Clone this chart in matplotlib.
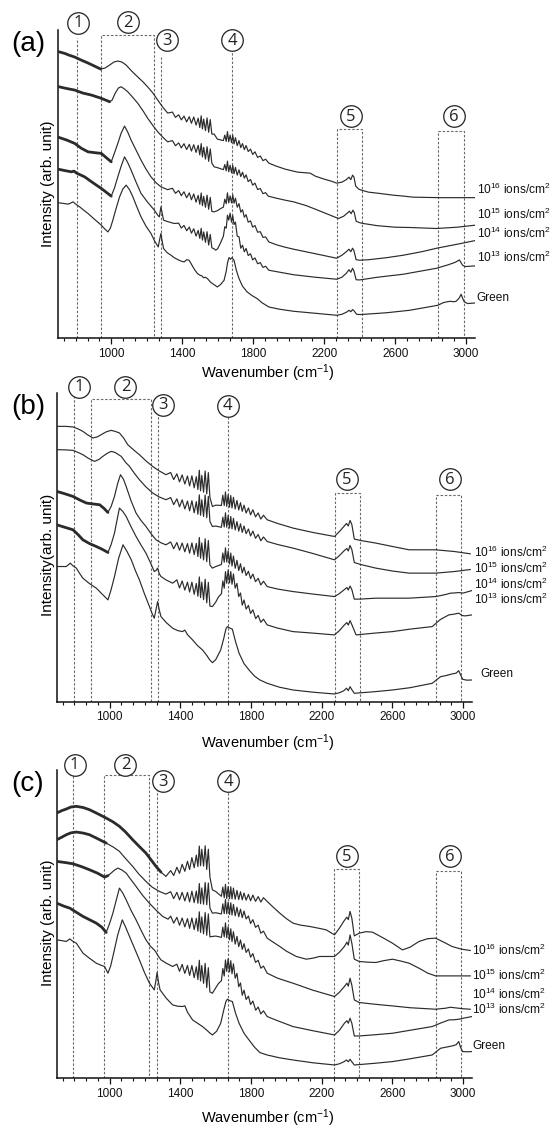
import matplotlib
matplotlib.use('Agg')
import matplotlib.pyplot as plt
from matplotlib.ticker import AutoMinorLocator

plt.rcParams['font.family'] = ['Liberation Sans', 'DejaVu Sans']
plt.rcParams['mathtext.default'] = 'regular'

# ---------------- data: (wavenumber cm^-1, intensity arb. unit) ----------------
SERIES_LABELS = ['10$^{16}$ ions/cm$^{2}$', '10$^{15}$ ions/cm$^{2}$',
                 '10$^{14}$ ions/cm$^{2}$', '10$^{13}$ ions/cm$^{2}$', 'Green']
X_TICKS = [1000, 1400, 1800, 2200, 2600, 3000]

A16 = [(700,286.5),(740,284.5),(760,283),(794,281),(830,278),(869,275),(905,272),(940,269),(965,270),(991,273),(1015,276),(1037,277),(1060,276),(1084,273),(1115,267),(1150,261),(1180,256),(1206,251),(1235,245),(1262,238),(1290,231),(1318,225),(1345,226),(1362,220.7),(1380,223.3),(1395,218.2),(1410,222),(1425,216.2),(1440,221.4),(1452,214.8),(1465,221.1),(1478,213),(1490,219.9),(1499,210.5),(1507,222.3),(1514,209.1),(1521,219),(1531,207.5),(1540,220.2),(1549,205.8),(1558,218.5),(1567,204),(1580,204),(1598,199),(1632,197.5),(1640,203),(1648,196.7),(1655,206.5),(1662,196.3),(1670,203),(1678,195.5),(1685,202.8),(1692,194.2),(1700,200.4),(1710,192.4),(1720,197.5),(1730,190.5),(1740,194.5),(1750,188.5),(1760,192.6),(1772,186.6),(1785,189),(1797,183.7),(1810,186.3),(1825,180.7),(1840,182.1),(1855,177.5),(1870,178.9),(1888,175),(1930,172),(1980,169),(2050,166),(2121,165),(2150,162),(2200,159),(2240,157),(2271,155),(2300,156),(2325,158.5),(2340,161),(2350,158.5),(2360,163),(2368,161),(2378,152),(2395,149),(2410,148),(2450,146),(2500,145),(2589,143),(2650,142),(2701,141),(2850,140.5),(3050,140.5)]
A15 = [(700,251.5),(750,249.5),(794,248),(840,245),(888,243),(940,240),(975,237.5),(991,236.3),(1005,238),(1022,244.7),(1040,250),(1056,251.3),(1075,249),(1093,246.3),(1120,241),(1150,234.7),(1180,227),(1206,219.7),(1235,212.5),(1262,206.3),(1290,201),(1318,196.3),(1345,197.5),(1362,192.4),(1380,195.2),(1395,190.2),(1410,194.4),(1425,188.6),(1440,193.8),(1452,187.1),(1465,193.4),(1478,185.7),(1490,192.8),(1499,183.2),(1507,194.5),(1514,181.2),(1521,190.8),(1531,179),(1540,191.4),(1549,176.8),(1558,189.2),(1567,175),(1580,171.3),(1598,170.5),(1632,168.5),(1640,173.6),(1648,167.3),(1655,177),(1662,166.4),(1670,172.9),(1678,165.3),(1685,172.8),(1692,164.3),(1700,170.7),(1710,163),(1720,168.3),(1730,161.6),(1740,165.9),(1750,160),(1760,163.3),(1772,156.5),(1785,158.7),(1797,153),(1810,155),(1825,148.6),(1840,149.6),(1855,144.5),(1870,145.5),(1885,142),(1930,140),(1980,138),(2028,136.3),(2100,132.5),(2150,129),(2220,124),(2280,119.7),(2310,122),(2330,125),(2342,127),(2352,124.5),(2362,128),(2370,125.5),(2380,117),(2400,115.5),(2420,114.7),(2500,112.5),(2600,111),(2682,110.7),(2832,109.7),(2950,111),(3050,113)]
A14 = [(700,201),(750,198),(794,194.7),(830,190),(869,186.3),(905,185.5),(944,184.7),(975,180),(1000,176.3),(1018,185),(1037,194.7),(1056,205),(1075,212),(1093,206),(1112,198),(1140,188),(1168,178),(1196,169),(1224,161.3),(1252,155.5),(1280,151.3),(1318,148.5),(1345,149.9),(1362,144.8),(1380,147.6),(1395,142.5),(1410,146.4),(1425,140.4),(1440,145.3),(1452,138.4),(1465,144.2),(1478,136),(1490,142.8),(1499,133.9),(1507,145.2),(1514,132.5),(1521,141.8),(1531,130.9),(1540,143),(1549,128.9),(1558,140.8),(1567,126.8),(1580,126.3),(1598,127.5),(1620,130),(1632,131),(1640,139),(1648,134.5),(1655,145.3),(1662,135.3),(1670,142.3),(1678,135.3),(1685,143.3),(1692,135),(1700,140),(1710,131),(1720,134.5),(1730,126),(1740,128.5),(1750,121),(1760,123.5),(1772,116),(1785,117.3),(1797,111),(1810,112.7),(1825,106),(1840,106.5),(1855,100.8),(1870,101.3),(1888,96.3),(1930,93.5),(1980,91),(2028,89),(2150,84.5),(2270,80),(2300,83),(2325,86.5),(2340,89),(2350,86.5),(2360,90),(2368,87.5),(2380,78.5),(2400,78),(2450,78.5),(2550,80.5),(2646,83),(2750,86.5),(2834,90),(2950,94),(3050,97.6)]
A13 = [(700,169),(740,167.5),(776,166.3),(790,167),(805,165),(850,161.3),(900,155),(944,149.7),(975,145.5),(1000,142),(1018,150),(1037,161.3),(1056,172),(1075,181.3),(1093,175.5),(1112,168),(1140,156),(1168,144.7),(1205,136),(1243,128),(1262,123),(1271,121.3),(1280,131.3),(1288,124),(1295,118),(1320,116.5),(1355,114.7),(1380,115),(1395,110.1),(1410,112.8),(1425,107.5),(1440,111.1),(1452,105),(1465,109.5),(1478,102.1),(1490,107.8),(1499,99.8),(1507,109.9),(1514,98.1),(1521,106.3),(1531,95.9),(1540,106.5),(1549,93.2),(1558,103.8),(1567,90.4),(1580,89.4),(1589,88),(1600,89.5),(1615,95),(1632,102),(1640,111.5),(1648,110),(1655,123),(1662,118),(1670,125),(1678,116),(1685,122.5),(1692,113.7),(1700,116),(1710,102),(1720,101.5),(1730,90),(1740,93),(1750,86.5),(1760,89.8),(1772,82.7),(1785,84.4),(1797,78.3),(1810,80.3),(1825,74.5),(1840,75.6),(1855,70.8),(1870,72),(1888,68),(1950,66),(2028,63.5),(2150,61),(2271,59),(2300,61),(2325,65),(2340,68.5),(2350,66),(2360,70),(2368,67),(2380,58.5),(2400,58.3),(2500,61),(2646,64),(2834,70),(2900,73.5),(2940,76),(2962,78.3),(2980,73),(2995,71.7),(3050,72.3)]
AG = [(700,135.5),(740,134.5),(757,134),(770,135),(785,136.3),(800,134),(822,131.3),(845,128),(869,124.7),(905,119),(944,113),(965,109),(981,106.3),(995,110),(1009,118),(1028,130),(1047,141.3),(1065,149),(1084,153),(1103,148.5),(1122,141.3),(1145,131),(1168,121.3),(1196,112),(1224,104.7),(1245,97),(1265,91.3),(1272,98),(1280,104.7),(1287,97),(1295,89.7),(1315,85.5),(1337,83),(1355,80.5),(1374,78.7),(1395,77),(1411,76.3),(1425,78.5),(1439,78),(1455,73),(1470,68.5),(1486,64.7),(1500,63),(1510,62.5),(1520,60.5),(1530,61),(1542,59.7),(1560,56),(1580,53.5),(1598,51.3),(1615,53.5),(1636,58),(1648,67),(1656,76),(1664,80.7),(1672,79),(1680,80.5),(1692,78),(1705,68),(1720,59.7),(1740,52),(1766,46.3),(1795,42.5),(1822,39.7),(1850,35.5),(1888,31.3),(1950,29),(2028,27),(2150,25),(2271,23),(2300,24),(2325,26),(2340,28),(2350,26.5),(2360,28.7),(2368,27.5),(2383,24),(2402,23.7),(2550,25.5),(2682,28),(2841,33),(2870,35.5),(2888,36.3),(2910,37),(2930,36.5),(2944,37),(2960,40),(2972,44),(2980,40),(2990,36.3),(3009,34.7),(3050,35.3)]

B16 = [(700,275),(750,275),(792,274.4),(820,272.5),(848,270),(875,266.5),(905,263.4),(930,264.5),(952,266.7),(980,269.5),(1008,271),(1030,270),(1055,268.4),(1080,263),(1102,256.7),(1135,251.5),(1168,246.7),(1205,240.5),(1243,235),(1280,230.5),(1318,226.7),(1345,228.9),(1362,221.8),(1380,227.6),(1395,219.6),(1410,226.5),(1425,217.4),(1440,225.4),(1452,215.5),(1465,225.6),(1478,213.6),(1490,224.7),(1499,211.9),(1507,231.2),(1514,210.6),(1521,226),(1531,209.2),(1540,230.4),(1549,207.6),(1558,228.8),(1567,204),(1581,195),(1600,196.3),(1632,196),(1640,206.3),(1648,195.9),(1655,209.5),(1662,195.1),(1670,206.7),(1678,194.3),(1685,205.9),(1692,193.5),(1700,204.1),(1710,192.5),(1720,201),(1730,191.5),(1740,198.8),(1750,190.1),(1760,196.3),(1772,188.4),(1785,193.5),(1797,186.6),(1810,191.7),(1825,184.6),(1840,188.5),(1855,182.4),(1870,186.2),(1891,181.7),(1950,178),(2037,173.4),(2150,169),(2272,165),(2300,170),(2325,175),(2340,178),(2350,175.5),(2360,181),(2370,177),(2384,162.4),(2420,161),(2506,158.4),(2600,155),(2694,151.7),(2844,151.7),(2950,150),(3040,147.7)]
B15 = [(700,251.7),(750,251.5),(792,251),(820,249),(848,246.7),(880,243),(914,240),(940,242),(961,245),(985,248),(1008,250),(1030,249),(1065,245),(1090,239),(1112,235),(1140,228),(1168,221.7),(1205,214.5),(1243,208.4),(1280,204.5),(1318,201.7),(1345,203.9),(1362,196.8),(1380,202.6),(1395,194.6),(1410,201.6),(1425,192.5),(1440,200.4),(1452,190.6),(1465,200.7),(1478,188.7),(1490,199.8),(1499,187.2),(1507,206.6),(1514,186.2),(1521,201.7),(1531,185),(1540,206.4),(1549,183.8),(1558,205.1),(1567,180),(1581,175),(1600,175.4),(1632,174.2),(1640,184.3),(1648,174.5),(1655,188.7),(1662,174.3),(1670,185.9),(1678,173.4),(1685,185),(1692,172.6),(1700,183.1),(1710,171.5),(1720,179.9),(1730,170.3),(1740,177.7),(1750,169.1),(1760,175.5),(1772,167.8),(1785,172.5),(1797,165.5),(1810,170.4),(1825,163.2),(1840,167),(1855,160.7),(1870,164.5),(1891,160),(1950,157),(2037,153.4),(2150,148),(2272,141.7),(2300,146),(2328,151),(2342,153),(2350,150.5),(2360,156),(2370,152),(2384,139),(2420,137),(2506,133.4),(2600,130.5),(2694,128.4),(2844,128.4),(2950,130),(3040,132)]
B14 = [(700,210),(740,208),(792,205),(830,201.5),(868,198.4),(905,197.5),(943,196.7),(968,193),(990,189),(1008,195),(1027,205),(1045,218),(1061,226.7),(1078,222),(1093,215),(1120,201),(1149,188.4),(1177,181),(1205,175),(1235,167.5),(1262,161.7),(1290,158.7),(1318,156.7),(1345,159.5),(1362,152.8),(1380,159),(1395,151.3),(1410,158.5),(1425,149.7),(1440,157.9),(1452,148.3),(1465,158.6),(1478,146.9),(1490,158.1),(1499,145),(1507,164),(1514,143.3),(1521,158.6),(1531,141.6),(1540,162.7),(1549,139.8),(1558,161),(1567,136.5),(1581,133.4),(1600,135),(1632,137),(1640,148.5),(1648,139.3),(1655,153.7),(1662,139.5),(1670,150.5),(1678,137.5),(1685,148.5),(1692,135.5),(1700,145.5),(1710,133.3),(1720,141.2),(1730,131),(1740,137.8),(1750,128.6),(1760,134.4),(1772,126),(1785,130.3),(1797,122.9),(1810,127.5),(1825,119.9),(1840,123.2),(1855,116.6),(1870,120.3),(1891,115),(1950,112.5),(2037,110),(2150,107.5),(2272,105),(2300,108),(2328,112),(2342,114),(2350,111.5),(2360,115.5),(2370,112),(2384,102.4),(2420,102.5),(2506,103.4),(2694,103.4),(2844,105),(2900,107),(2928,108.4),(2950,108.6),(2975,109),(3000,108.5),(3050,111)]
B13 = [(700,176.7),(740,174.5),(792,171.7),(820,167),(848,161.7),(885,158),(924,155),(960,152),(990,149),(1008,157),(1027,168.4),(1041,181),(1055,193.4),(1074,190),(1093,185),(1120,175),(1149,165),(1177,156.5),(1205,148.4),(1230,139),(1252,130),(1262,131),(1271,133.4),(1280,128),(1290,125),(1320,121.5),(1356,118.4),(1380,121.7),(1395,113.6),(1410,120.6),(1425,111.5),(1440,119.4),(1452,109.5),(1465,119.4),(1478,107.2),(1490,118.1),(1499,105.3),(1507,124.6),(1514,104),(1521,119.4),(1531,101.9),(1540,122.3),(1549,98.7),(1558,119.1),(1567,95.5),(1581,95),(1600,99.5),(1615,104.5),(1632,107.8),(1640,120.6),(1648,113.4),(1655,129.9),(1662,118.3),(1670,131.5),(1678,118.6),(1685,130),(1692,117.3),(1700,127.6),(1710,113.4),(1720,118.2),(1730,105),(1740,108.6),(1750,96.4),(1760,101.6),(1772,92.5),(1785,96.2),(1797,88.1),(1810,91.8),(1826,83),(1840,86.2),(1855,79.3),(1870,82.4),(1891,76.7),(1950,73.5),(2037,70),(2150,68.5),(2272,66.7),(2300,71),(2328,76.7),(2342,79),(2350,76.5),(2360,81),(2370,77),(2394,66.7),(2500,68.5),(2600,70),(2700,72.5),(2825,75),(2870,82),(2919,86.7),(2950,87.5),(2975,88.4),(2995,86),(3012,85.7),(3050,86.7)]
BG = [(700,135),(730,135),(754,135),(768,137),(777,138.4),(790,136),(811,133.4),(830,128),(848,123.4),(885,118),(924,113.4),(960,107),(990,101.7),(1008,112),(1027,125),(1050,143),(1075,156.7),(1098,150),(1122,141.7),(1145,131),(1168,121.7),(1196,108),(1225,95),(1240,88),(1252,83.4),(1262,92),(1271,100),(1280,92),(1290,85),(1320,79),(1356,73.4),(1385,71),(1412,70),(1425,71.5),(1440,67),(1469,61.7),(1497,56),(1525,51.7),(1550,46),(1565,42),(1581,39),(1600,42),(1628,51.7),(1645,63),(1658,73),(1666,75),(1680,73.5),(1694,72.4),(1712,60),(1732,48.4),(1760,38),(1788,31.7),(1820,25.5),(1850,21.7),(1891,18.4),(1960,14.5),(2037,11.7),(2150,9.5),(2272,7.7),(2300,9),(2325,11),(2340,13.5),(2350,11),(2360,15),(2370,12),(2384,8.4),(2500,10),(2600,11.7),(2700,14),(2825,18.4),(2872,25),(2900,26),(2937,27.7),(2960,28.5),(2975,31),(2985,27),(2997,22.4),(3020,21.5),(3050,21.7)]

C16 = [(700,265),(730,267.5),(754,269),(780,271),(811,271.7),(850,270.5),(886,268.3),(930,264.5),(980,260),(1020,256),(1055,251.7),(1090,246),(1130,238.3),(1165,232),(1205,225),(1235,218),(1262,211.7),(1290,206),(1318,201.7),(1345,207.5),(1362,202.6),(1380,210.8),(1395,204.8),(1410,213.8),(1425,206.8),(1440,216.8),(1452,208.6),(1465,220.5),(1478,210.3),(1490,223),(1499,211.5),(1507,232),(1514,212.4),(1521,228.8),(1531,212),(1540,232.3),(1549,208.6),(1558,228.9),(1567,201),(1581,188.3),(1600,186.6),(1632,181.8),(1640,191.1),(1648,180.4),(1655,193.8),(1662,179.6),(1670,191.5),(1678,179.4),(1685,191.3),(1692,179.2),(1700,190),(1710,178.9),(1720,187.7),(1730,178.6),(1740,186.4),(1750,178.3),(1760,185.1),(1772,178),(1785,183.7),(1797,177.4),(1810,183.1),(1825,176.8),(1840,181.5),(1855,176.1),(1870,180.4),(1891,176.7),(1925,171),(1962,165),(2000,159.5),(2037,155),(2080,153),(2131,151.7),(2180,150),(2225,148.3),(2272,143.3),(2300,150),(2325,157),(2342,161),(2350,158.5),(2360,166.7),(2370,160),(2384,142.3),(2412,145),(2450,146.5),(2487,146),(2550,140),(2600,135),(2656,128.3),(2700,131),(2750,136.7),(2800,139.5),(2844,140),(2890,136),(2937,131.7),(2990,129),(3040,127.7)]
C15 = [(700,238.3),(730,241),(754,243.3),(780,245.2),(811,246),(850,245),(886,243.3),(930,239.5),(980,235),(1020,231),(1055,226.7),(1090,219.5),(1130,211.7),(1165,204),(1205,196.7),(1240,191),(1281,186.7),(1318,184),(1345,186.4),(1362,179.5),(1380,185.8),(1395,178.3),(1410,185.8),(1425,177.2),(1440,185.7),(1452,176.2),(1465,186.9),(1478,175.5),(1490,187.1),(1499,174.9),(1507,194.6),(1514,174.4),(1521,190.2),(1531,173.9),(1540,195.6),(1549,173.4),(1558,195.1),(1567,170),(1581,165),(1600,165.4),(1632,164.2),(1640,174.3),(1648,164.5),(1655,178.7),(1662,164.4),(1670,176.1),(1678,163.7),(1685,175.4),(1692,163.1),(1700,173.7),(1710,162.3),(1720,170.9),(1730,161.4),(1740,169),(1750,160.5),(1760,167.1),(1772,159.2),(1785,162.2),(1797,154.6),(1810,158.5),(1825,150.8),(1840,153),(1855,145),(1870,147),(1891,140),(1925,136),(1962,131.7),(2000,127),(2056,121.7),(2112,119),(2150,120),(2187,121.7),(2230,121.7),(2272,121.7),(2300,126),(2328,131.7),(2342,136),(2350,133),(2360,143.3),(2370,135),(2384,119),(2412,116.7),(2460,116),(2506,115.7),(2550,117.5),(2600,119),(2650,117),(2694,115),(2750,110),(2800,105),(2844,102.3),(2950,102.3),(3040,102.3)]
C14 = [(700,216.7),(750,215.5),(792,214.3),(840,211.5),(886,208.3),(930,205),(971,201),(990,202.5),(1008,205),(1027,208),(1046,210),(1070,208),(1093,205),(1120,198.5),(1149,191.7),(1185,183),(1224,175),(1262,168),(1300,161.7),(1330,159),(1345,162),(1362,155),(1380,160.8),(1395,152.9),(1410,160.1),(1425,151.3),(1440,159.5),(1452,149.8),(1465,160.2),(1478,148.5),(1490,159.8),(1499,147),(1507,166.3),(1514,145.7),(1521,161.2),(1531,144.4),(1540,165.6),(1549,142.9),(1558,164.2),(1567,141.3),(1581,141.7),(1600,142.1),(1632,140.8),(1640,151),(1648,141.2),(1655,155.3),(1662,140.5),(1670,151.4),(1678,138.4),(1685,149.4),(1692,136.5),(1700,146.5),(1710,134.1),(1720,141.8),(1730,131.5),(1740,138.2),(1750,128.8),(1760,134.5),(1772,125.7),(1785,129.3),(1797,121),(1810,124.6),(1825,115.8),(1840,117.9),(1855,110),(1870,112.1),(1891,105),(1950,100),(2037,95),(2150,88),(2272,81.7),(2300,86),(2328,91.7),(2342,95),(2350,92),(2360,100),(2370,93),(2384,78.3),(2412,75.7),(2500,74),(2600,72.3),(2700,70.5),(2844,69),(2900,70),(2928,71),(2950,70.5),(2975,70),(3000,69.5),(3040,69)]
C13 = [(700,175),(740,172),(774,170),(810,166),(849,161.7),(885,158.5),(924,155),(955,151),(980,145.7),(1000,155),(1018,165),(1037,178),(1055,190),(1074,185),(1093,178.3),(1120,168),(1149,158.3),(1177,148),(1205,138.3),(1230,132),(1252,128.3),(1262,126),(1275,122),(1290,118.3),(1320,115),(1356,111.7),(1380,114),(1395,106.9),(1410,113.8),(1425,104.8),(1440,112.7),(1452,102.8),(1465,112.7),(1478,100.5),(1490,111.4),(1499,98.6),(1507,117.9),(1514,97.3),(1521,112.7),(1531,94.9),(1540,114.8),(1549,90.6),(1558,110.5),(1567,86.3),(1581,85),(1600,90.4),(1615,94.6),(1632,97.5),(1640,109.7),(1648,102.2),(1655,118.3),(1662,106.8),(1670,119.5),(1678,106.4),(1685,117.5),(1692,104.4),(1700,114.4),(1710,100),(1720,104.8),(1730,91.5),(1740,95.3),(1750,83),(1760,88),(1772,78.7),(1785,82.1),(1797,73.7),(1810,77.2),(1826,68),(1840,71.2),(1855,64.3),(1870,67.4),(1891,61.7),(1950,57.5),(2037,51.7),(2150,47.5),(2272,43.3),(2300,48),(2328,55),(2342,57.5),(2350,55),(2360,60),(2370,55),(2384,42.3),(2412,42.3),(2500,43.5),(2600,45),(2700,48),(2825,51.7),(2870,55),(2919,58.3),(2950,58.5),(2975,59),(3000,60),(3050,61.7)]
CG = [(700,138.3),(730,137.5),(754,136.7),(765,138),(774,139.3),(790,137),(811,135),(830,130),(849,125),(885,120),(924,115),(950,113),(971,111.7),(990,105),(1005,112),(1018,121.7),(1045,143),(1071,158.3),(1090,151),(1112,141.7),(1140,130),(1168,118.3),(1196,106),(1225,95),(1252,88.3),(1260,96),(1268,105.7),(1276,96),(1285,88.3),(1320,80),(1356,73.3),(1385,72),(1412,71.7),(1425,72.5),(1440,66),(1469,58.3),(1497,55),(1525,51.7),(1550,48),(1565,45.5),(1581,43.3),(1605,47),(1628,55),(1645,68),(1658,77),(1666,79),(1680,77.5),(1694,76.7),(1712,65),(1732,55),(1760,45),(1788,38.3),(1820,31),(1850,25.7),(1891,23.3),(1960,20.5),(2037,18.3),(2150,15.5),(2272,13.3),(2300,14.5),(2325,16.5),(2340,18.3),(2350,16.5),(2360,19),(2370,16.5),(2384,13.3),(2500,15),(2600,16.7),(2700,19.5),(2825,23.3),(2872,30),(2900,31),(2937,32.3),(2960,33.5),(2975,36.7),(2985,31),(2997,26.7),(3020,26.5),(3050,26.7)]

# band markers (wavenumber positions of the numbered regions)
A_LINES = [808, 1280, 1679]
A_BOXES = [(940, 1243), (2271, 2415), (2841, 2987)]
B_LINES = [798, 1271, 1670]
B_BOXES = [(895, 1234), (2272, 2416), (2844, 2988)]
C_LINES = [792, 1267, 1670]
C_BOXES = [(967, 1224), (2268, 2412), (2844, 2988)]

# ---------------- layout / style ----------------
W, H = 556, 1128
LINE_COLOR = '#2b2b2b'
DASH_COLOR = '#6a6a6a'

PANELS = [
    dict(tag='(a)', curves=[A16, A15, A14, A13, AG], thick=[945, 995, 1000, 1000, None],
         label_y=[149, 123.3, 105, 81, 40], label_x=[3060]*5,
         lines=A_LINES, line_tops=[300, 283, 288], boxes=A_BOXES, box_tops=[303, 208.7, 207.3],
         circles=[(812, 315), (1096, 315.5), (1315, 298), (1681, 298), (2349, 222), (2930, 222)],
         ax_px=(58, 30, 475, 338.3), ylab='Intensity (arb. unit)', ylab_y=184, xlab_y=373),
    dict(tag='(b)', curves=[B16, B15, B14, B13, BG], thick=[None, None, 990, 995, None],
         label_y=[149.5, 133.5, 117.5, 102.5, 28], label_x=[3063]*4 + [3095],
         lines=B_LINES, line_tops=[306, 291.7, 285], boxes=B_BOXES, box_tops=[302, 208.4, 206.7],
         circles=[(826, 314.4), (1089, 314.4), (1303, 296.7), (1668, 295.7), (2341, 222.4), (2924, 222.4)],
         ax_px=(56.7, 393.3, 472, 701.7), ylab='Intensity(arb. unit)', ylab_y=555, xlab_y=743),
    dict(tag='(c)', curves=[C16, C15, C14, C13, CG], thick=[1300, 1000, 990, 980, None],
         label_y=[128, 103, 84, 69, 32.5], label_x=[3052]*5,
         lines=C_LINES, line_tops=[306, 293.3, 288.3], boxes=C_BOXES, box_tops=[303.3, 209, 207.3],
         circles=[(801, 313.3), (1089, 313.3), (1303, 296.7), (1670, 296.7), (2341, 221.6), (2924, 221.6)],
         ax_px=(56.7, 770, 472, 1078.3), ylab='Intensity (arb. unit)', ylab_y=923, xlab_y=1118),
]

fig = plt.figure(figsize=(W / 100, H / 100), dpi=100)
fig.patch.set_facecolor('white')

for p in PANELS:
    x0, y0, x1, y1 = p['ax_px']
    ax = fig.add_axes([x0 / W, 1 - y1 / H, (x1 - x0) / W, (y1 - y0) / H])
    ax.set_xlim(700, 3050)
    ax.set_ylim(0, 308)
    for s in ('top', 'right'):
        ax.spines[s].set_visible(False)
    for s in ('left', 'bottom'):
        ax.spines[s].set_linewidth(1.1)
        ax.spines[s].set_color('#111111')
    ax.set_yticks([])
    ax.set_xticks(X_TICKS)
    ax.xaxis.set_minor_locator(AutoMinorLocator(6))
    ax.tick_params(axis='x', which='major', direction='out', length=4.5, width=0.9,
                   labelsize=8.5, pad=2.5, colors='#111111')
    ax.tick_params(axis='x', which='minor', direction='out', length=2.5, width=0.8, colors='#111111')

    # dashed band markers
    dash = dict(color=DASH_COLOR, lw=0.8, ls=(0, (2.2, 1.6)), zorder=1)
    for x, top in zip(p['lines'], p['line_tops']):
        ax.plot([x, x], [0, top], **dash)
    for (bx0, bx1), top in zip(p['boxes'], p['box_tops']):
        ax.plot([bx0, bx0, bx1, bx1], [0, top, top, 0], **dash)

    # spectra
    for curve, thick_end in zip(p['curves'], p['thick']):
        wn = [c[0] for c in curve]
        it = [c[1] for c in curve]
        ax.plot(wn, it, color=LINE_COLOR, lw=0.85, zorder=3, solid_joinstyle='round')
        if thick_end:
            sel = [c for c in curve if c[0] <= thick_end]
            ax.plot([c[0] for c in sel], [c[1] for c in sel], color=LINE_COLOR, lw=2.0,
                    zorder=3, solid_capstyle='round')

    # series labels at right
    for lab, lx, ly in zip(SERIES_LABELS, p['label_x'], p['label_y']):
        ax.text(lx, ly, lab, fontsize=8.6, ha='left', va='center', clip_on=False, color='#111111')

    # circled numbers
    for i, (cx, cy) in enumerate(p['circles']):
        ax.plot([cx], [cy], marker='o', ms=15.5, mfc='white', mec='#222222', mew=0.9,
                clip_on=False, zorder=6)
        ax.text(cx, cy - 0.5, str(i + 1), fontsize=12, ha='center', va='center',
                family=['Open Sans', 'DejaVu Sans'], color='#222222', zorder=7, clip_on=False)

    # panel tag and axis labels
    fig.text(28 / W, 1 - (y0 + 14) / H, p['tag'], fontsize=20, ha='center', va='center')
    fig.text(48 / W, 1 - p['ylab_y'] / H, p['ylab'], fontsize=11, rotation=90,
             ha='center', va='center')
    fig.text(268 / W, 1 - p['xlab_y'] / H, 'Wavenumber (cm$^{-1}$)', fontsize=10.5,
             ha='center', va='center')

fig.savefig('out.png', dpi=100, facecolor='white')
